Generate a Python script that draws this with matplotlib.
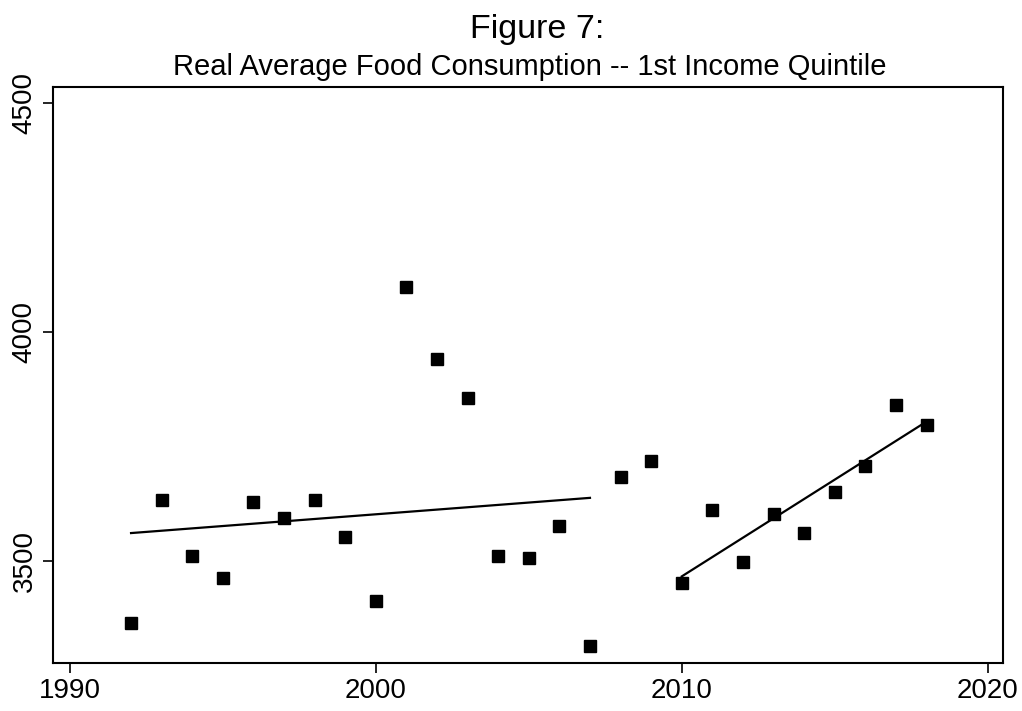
import numpy as np
import matplotlib.pyplot as plt

plt.rcParams['font.family'] = ['Liberation Sans', 'DejaVu Sans']

years_a = [1992, 1993, 1994, 1995, 1996, 1997, 1998, 1999, 2000, 2001,
           2002, 2003, 2004, 2005, 2006, 2007]
food_a = [3365, 3632, 3510, 3462, 3629, 3593, 3632, 3552, 3412, 4098,
          3940, 3856, 3511, 3506, 3576, 3314]
years_b = [2008, 2009]
food_b = [3683, 3718]
years_c = [2010, 2011, 2012, 2013, 2014, 2015, 2016, 2017, 2018]
food_c = [3452, 3611, 3497, 3602, 3560, 3651, 3707, 3840, 3797]

xticks = [1990, 2000, 2010, 2020]
yticks = [3500, 4000, 4500]

fig = plt.figure(figsize=(10.22, 7.11), dpi=100)
ax = fig.add_axes([0.0519, 0.0675, 0.9295, 0.8101])

all_years = years_a + years_b + years_c
all_food = food_a + food_b + food_c
ax.plot(all_years, all_food, 's', color='black', ms=8, ls='none')

# linear fits over the two periods
for yrs, vals in [(years_a, food_a), (years_c, food_c)]:
    x = np.array(yrs, dtype=float)
    b, a = np.polyfit(x, vals, 1)
    ax.plot([x[0], x[-1]], [a + b * x[0], a + b * x[-1]], color='black', lw=1.6)

ax.set_xlim(1989.45, 2020.5)
ax.set_ylim(3277, 4535)
ax.set_xticks(xticks)
ax.set_yticks(yticks)
ax.tick_params(direction='out', length=7, width=1.2, labelsize=20, pad=4)
ax.tick_params(axis='y', pad=4)
for lab in ax.get_yticklabels():
    lab.set_rotation(90)
    lab.set_va('center')
for s in ax.spines.values():
    s.set_linewidth(1.5)

cx = 0.0519 + 0.9295 / 2
fig.text(cx + 0.009, 0.947, 'Figure 7:', ha='center', va='baseline', fontsize=24.5)
fig.text(cx + 0.002, 0.895, 'Real Average Food Consumption -- 1st Income Quintile',
         ha='center', va='baseline', fontsize=21)

plt.savefig('out.png', dpi=100)
